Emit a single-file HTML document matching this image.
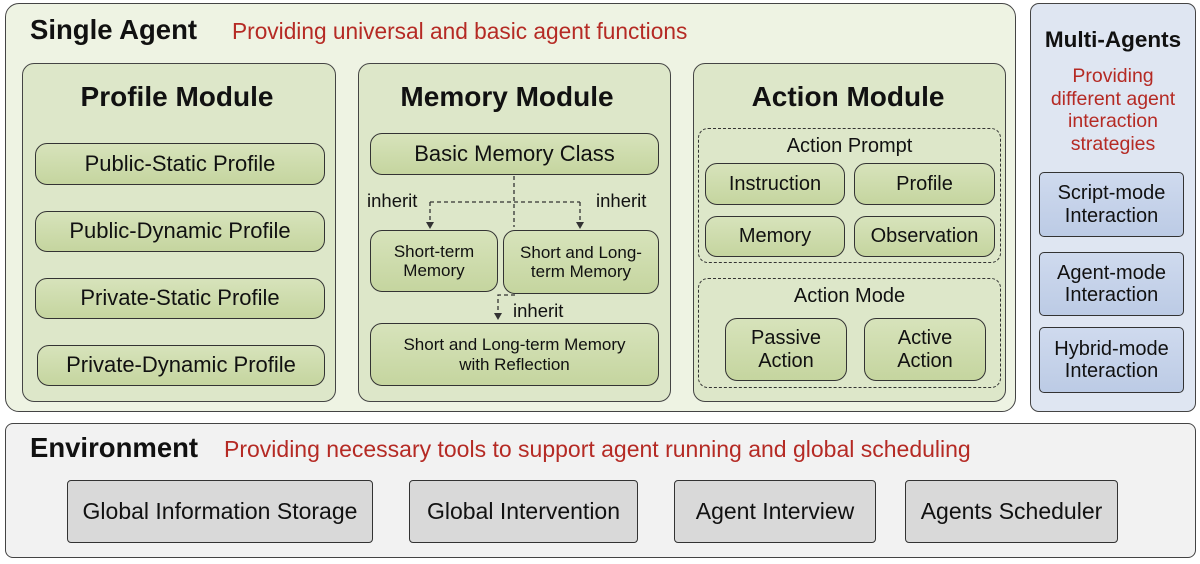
<!DOCTYPE html><html><head><meta charset="utf-8"><style>
body{margin:0;width:1200px;height:564px;background:#fff;position:relative;overflow:hidden;font-family:"Liberation Sans","DejaVu Sans",sans-serif;color:#111}
div{position:absolute;box-sizing:border-box}
.c{display:flex;align-items:center;justify-content:center;text-align:center;line-height:1.12}
.outer{background:#eef3e3;border:1.5px solid #444;border-radius:14px}
.mod{background:#dde7c9;border:1.5px solid #444;border-radius:12px}
.b{background:linear-gradient(#d7e3bb,#c5d59f);border:1.5px solid #333;border-radius:12px;font-size:22px}
.d{border:1.3px dashed #333;border-radius:10px}
.mb{background:linear-gradient(#cfdaee,#bccbe5);border:1.5px solid #333;border-radius:5px;font-size:20px}
.eb{background:#d9d9d9;border:1.5px solid #333;border-radius:4px;font-size:23px}
.t{font-weight:bold;font-size:27.5px}
.red{color:#b52a24}
.mt{font-weight:bold;font-size:28px;text-align:center}
</style></head><body>
<div class="outer" style="left:5px;top:3px;width:1011px;height:409px"></div>
<div class="t" style="left:30px;top:14px">Single Agent</div>
<div class="red" style="left:232px;top:18px;font-size:22.7px">Providing universal and basic agent functions</div>

<div class="mod" style="left:22px;top:63px;width:314px;height:339px"></div>
<div class="mt" style="left:22px;top:81px;width:310px">Profile Module</div>
<div class="b c" style="left:35px;top:143px;width:290px;height:42px">Public-Static Profile</div>
<div class="b c" style="left:35px;top:211px;width:290px;height:41px">Public-Dynamic Profile</div>
<div class="b c" style="left:35px;top:278px;width:290px;height:41px">Private-Static Profile</div>
<div class="b c" style="left:37px;top:345px;width:288px;height:41px">Private-Dynamic Profile</div>

<div class="mod" style="left:358px;top:63px;width:313px;height:339px"></div>
<div class="mt" style="left:358px;top:81px;width:298px">Memory Module</div>
<div class="b c" style="left:370px;top:133px;width:289px;height:42px">Basic Memory Class</div>
<div class="b c" style="left:370px;top:230px;width:128px;height:62px;font-size:17px">Short-term<br>Memory</div>
<div class="b c" style="left:503px;top:230px;width:156px;height:64px;font-size:17px">Short and Long-<br>term Memory</div>
<div class="b c" style="left:370px;top:323px;width:289px;height:63px;font-size:17px">Short and Long-term Memory<br>with Reflection</div>
<div style="left:367px;top:190px;font-size:18.5px">inherit</div>
<div style="left:596px;top:190px;font-size:18.5px">inherit</div>
<div style="left:513px;top:300px;font-size:18.5px">inherit</div>
<svg style="position:absolute;left:0;top:0" width="1200" height="564">
<g stroke="#333" stroke-width="1.3" stroke-dasharray="4,3" fill="none">
<path d="M514 176V227M430 202H580M430 202V224M580 202V224M515 295H498V314"/>
</g>
<g fill="#333"><path d="M426 222h8l-4 7z"/><path d="M576 222h8l-4 7z"/><path d="M494 313h8l-4 7z"/></g>
</svg>

<div class="mod" style="left:693px;top:63px;width:313px;height:339px"></div>
<div class="mt" style="left:693px;top:81px;width:310px">Action Module</div>
<div class="d" style="left:698px;top:128px;width:303px;height:135px"></div>
<div style="left:698px;top:135px;width:303px;text-align:center;font-size:20px">Action Prompt</div>
<div class="b c" style="left:705px;top:163px;width:140px;height:42px;font-size:20px">Instruction</div>
<div class="b c" style="left:854px;top:163px;width:141px;height:42px;font-size:20px">Profile</div>
<div class="b c" style="left:705px;top:216px;width:140px;height:41px;font-size:20px">Memory</div>
<div class="b c" style="left:854px;top:216px;width:141px;height:41px;font-size:20px">Observation</div>
<div class="d" style="left:698px;top:278px;width:303px;height:110px"></div>
<div style="left:698px;top:285px;width:303px;text-align:center;font-size:20px">Action Mode</div>
<div class="b c" style="left:725px;top:318px;width:122px;height:63px;font-size:20px">Passive<br>Action</div>
<div class="b c" style="left:864px;top:318px;width:122px;height:63px;font-size:20px">Active<br>Action</div>

<div style="left:1030px;top:3px;width:166px;height:409px;background:#dfe6f2;border:1.5px solid #444;border-radius:9px"></div>
<div style="left:1025px;top:27px;width:176px;text-align:center;font-weight:bold;font-size:22.5px">Multi-Agents</div>
<div class="red" style="left:1025px;top:65px;width:176px;text-align:center;font-size:19.5px;line-height:22.5px">Providing<br>different agent<br>interaction<br>strategies</div>
<div class="mb c" style="left:1039px;top:172px;width:145px;height:65px">Script-mode<br>Interaction</div>
<div class="mb c" style="left:1039px;top:252px;width:145px;height:64px">Agent-mode<br>Interaction</div>
<div class="mb c" style="left:1039px;top:327px;width:145px;height:66px">Hybrid-mode<br>Interaction</div>

<div style="left:5px;top:423px;width:1191px;height:135px;background:#f2f2f2;border:1.5px solid #444;border-radius:8px"></div>
<div class="t" style="left:30px;top:432px">Environment</div>
<div class="red" style="left:224px;top:436px;font-size:23px">Providing necessary tools to support agent running and global scheduling</div>
<div class="eb c" style="left:67px;top:480px;width:306px;height:63px">Global Information Storage</div>
<div class="eb c" style="left:409px;top:480px;width:229px;height:63px">Global Intervention</div>
<div class="eb c" style="left:674px;top:480px;width:202px;height:63px">Agent Interview</div>
<div class="eb c" style="left:905px;top:480px;width:213px;height:63px">Agents Scheduler</div>
</body></html>
